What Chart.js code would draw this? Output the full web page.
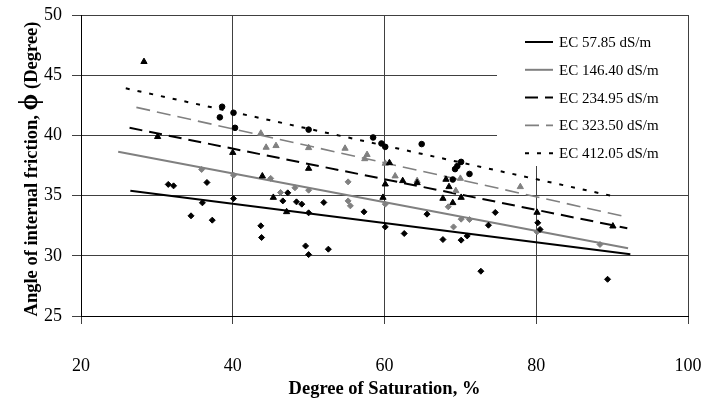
<!DOCTYPE html>
<html>
<head>
<meta charset="utf-8">
<script src="https://cdn.jsdelivr.net/npm/chart.js@4.4.0/dist/chart.umd.min.js"></script>
<style>
  html, body { margin: 0; padding: 0; background: #fff; }
</style>
</head>
<body>
<canvas id="chart" width="702" height="398"></canvas>
<script>
// series names (legend)
const seriesLabels = ['EC 57.85 dS/m', 'EC 146.40 dS/m', 'EC 234.95 dS/m', 'EC 323.50 dS/m', 'EC 412.05 dS/m'];

// measured points [degree of saturation %, friction angle deg]
const ec5785 = [[31.5, 35.93], [32.2, 35.81], [34.5, 33.32], [36.0, 34.4], [36.6, 36.09], [37.3, 32.96],
  [40.1, 34.75], [43.7, 32.49], [43.8, 31.52], [46.6, 34.56], [47.25, 35.23], [48.4, 34.48], [49.1, 34.29],
  [50.0, 33.57], [49.6, 30.82], [50.0, 30.1], [52.0, 34.43], [52.6, 30.55], [57.3, 33.65], [60.1, 32.4],
  [62.6, 31.85], [65.6, 33.46], [67.7, 31.35], [70.1, 31.3], [70.9, 31.65], [72.7, 28.72], [73.7, 32.54],
  [74.6, 33.6], [80.2, 32.74], [80.5, 32.19], [89.4, 28.05]];
const ec14640 = [[35.9, 37.17], [40.1, 36.7], [45.0, 36.43], [46.3, 35.26], [48.2, 35.65], [50.0, 35.45],
  [55.2, 36.14], [55.2, 34.56], [55.5, 34.15], [60.1, 34.29], [68.4, 34.07], [69.1, 32.4], [70.1, 33.04],
  [71.2, 33.01], [80.1, 31.99], [88.4, 30.94]];
const ec23495 = [[28.3, 46.12], [30.1, 39.89], [40.0, 38.57], [43.9, 36.62], [45.35, 34.84], [47.1, 33.65],
  [50.0, 37.25], [60.65, 37.72], [60.1, 35.95], [59.8, 34.84], [62.4, 36.23], [64.3, 36.06], [67.7, 34.76],
  [68.1, 36.34], [68.5, 35.73], [69.0, 34.4], [70.1, 34.84], [80.1, 33.6], [90.1, 32.46]];
const ec32350 = [[43.7, 40.17], [44.4, 39.0], [45.7, 39.14], [50.0, 38.97], [54.8, 38.92], [57.7, 38.4],
  [57.4, 38.05], [60.1, 37.67], [61.4, 36.62], [64.3, 36.23], [69.4, 35.4], [70.0, 36.42], [77.9, 35.73]];
const ec41205 = [[38.6, 42.38], [38.3, 41.5], [40.1, 41.88], [40.3, 40.63], [50.0, 40.48], [58.5, 39.83],
  [59.6, 39.33], [60.1, 39.05], [64.9, 39.28], [69.0, 36.34], [69.3, 37.2], [69.6, 37.45], [70.1, 37.8],
  [71.2, 36.8]];

// linear trend lines, [start, end]
const trend5785 = [[26.5, 35.40], [92.4, 30.13]];
const trend14640 = [[24.9, 38.64], [92.1, 30.63]];
const trend23495 = [[26.4, 40.63], [92.0, 32.29]];
const trend32350 = [[27.3, 42.33], [92.0, 33.21]];
const trend41205 = [[25.9, 43.91], [90.5, 34.90]];

// axis ticks
const xTicks = [20, 40, 60, 80, 100];
const yTicks = [25, 30, 35, 40, 45, 50];

const GRAY = '#808080';
const SERIF = '"Liberation Serif", "Times New Roman", serif';

const toPts = arr => arr.map(p => ({ x: p[0], y: p[1] }));

function scatterSet(pts, label, color, style, radius) {
  return {
    type: 'scatter',
    label: label,
    data: toPts(pts),
    pointStyle: style,
    pointRadius: radius,
    backgroundColor: color,
    borderColor: color,
    borderWidth: 1,
    showLine: false
  };
}

function trendSet(pts, label, color, width, dash) {
  return {
    type: 'line',
    label: label,
    data: toPts(pts),
    borderColor: color,
    borderWidth: width,
    borderDash: dash,
    pointRadius: 0,
    fill: false
  };
}

const trendSets = [
  trendSet(trend5785, seriesLabels[0], '#000', 2, []),
  trendSet(trend14640, seriesLabels[1], GRAY, 2, []),
  trendSet(trend23495, seriesLabels[2], '#000', 2, [13, 7]),
  trendSet(trend32350, seriesLabels[3], GRAY, 1.6, [14, 7]),
  trendSet(trend41205, seriesLabels[4], '#000', 2, [4, 8])
];

// legend box drawn inside the plot, upper right
const boxLegend = {
  id: 'boxLegend',
  afterDraw(chart) {
    const ctx = chart.ctx;
    const area = chart.chartArea;
    ctx.save();
    ctx.fillStyle = '#fff';
    ctx.fillRect(497, area.top + 1, area.right - 497, 150);
    trendSets.forEach((ds, i) => {
      const y = 42 + i * 27.8;
      ctx.strokeStyle = ds.borderColor;
      ctx.lineWidth = ds.borderWidth;
      ctx.setLineDash(ds.borderDash);
      ctx.beginPath();
      ctx.moveTo(525, y);
      ctx.lineTo(553, y);
      ctx.stroke();
      ctx.setLineDash([]);
      ctx.fillStyle = '#000';
      ctx.font = '15px ' + SERIF;
      ctx.textBaseline = 'middle';
      ctx.textAlign = 'left';
      ctx.fillText(ds.label, 559, y + 1);
    });
    ctx.restore();
  }
};

// y axis title with the bigger phi
const yTitle = {
  id: 'yTitle',
  afterDraw(chart) {
    const ctx = chart.ctx;
    const parts = [
      { t: 'Angle of internal friction, ', f: 'bold 18.5px ' + SERIF },
      { t: '\u03D5', f: 'bold 27px "Liberation Serif", "DejaVu Serif", serif' },
      { t: ' (Degree)', f: 'bold 18.5px ' + SERIF }
    ];
    ctx.save();
    let total = 0;
    parts.forEach(p => { ctx.font = p.f; p.w = ctx.measureText(p.t).width; total += p.w; });
    ctx.translate(37, 169);
    ctx.rotate(-Math.PI / 2);
    ctx.fillStyle = '#000';
    ctx.textBaseline = 'alphabetic';
    ctx.textAlign = 'left';
    let x = -total / 2;
    parts.forEach(p => { ctx.font = p.f; ctx.fillText(p.t, x, 0); x += p.w; });
    ctx.restore();
  }
};

new Chart(document.getElementById('chart'), {
  data: {
    datasets: [
      scatterSet(ec5785, seriesLabels[0], '#000', 'rectRot', 3),
      scatterSet(ec14640, seriesLabels[1], GRAY, 'rectRot', 3),
      scatterSet(ec23495, seriesLabels[2], '#000', 'triangle', 3.6),
      scatterSet(ec32350, seriesLabels[3], GRAY, 'triangle', 3.6),
      scatterSet(ec41205, seriesLabels[4], '#000', 'circle', 2.8)
    ].concat(trendSets)
  },
  options: {
    responsive: false,
    devicePixelRatio: 1,
    animation: false,
    layout: { padding: { top: 15, right: 14, left: 0, bottom: 0 } },
    plugins: {
      legend: { display: false },
      tooltip: { enabled: false }
    },
    scales: {
      x: {
        type: 'linear',
        min: xTicks[0],
        max: xTicks[xTicks.length - 1],
        afterFit(s) { s.height = 82; s.paddingLeft = 0; s.paddingRight = 0; },
        afterBuildTicks(s) { s.ticks = xTicks.map(v => ({ value: v })); },
        ticks: { color: '#000', font: { family: SERIF, size: 18 }, padding: 31, maxRotation: 0 },
        grid: { color: '#404040', lineWidth: 1, tickLength: 8, drawTicks: true },
        border: { display: true, color: '#000', width: 1 },
        title: {
          display: true,
          text: 'Degree of Saturation, %',
          color: '#000',
          font: { family: SERIF, size: 18.5, weight: 'bold' },
          padding: { top: 0, bottom: -2 }
        }
      },
      y: {
        type: 'linear',
        min: yTicks[0],
        max: yTicks[yTicks.length - 1],
        afterFit(s) { s.width = 81; s.paddingTop = 0; s.paddingBottom = 0; },
        afterBuildTicks(s) { s.ticks = yTicks.map(v => ({ value: v })); },
        ticks: { color: '#000', font: { family: SERIF, size: 18 }, padding: 10 },
        grid: { color: '#404040', lineWidth: 1, tickLength: 9, drawTicks: true },
        border: { display: true, color: '#000', width: 1 }
      }
    }
  },
  plugins: [boxLegend, yTitle]
});
</script>
</body>
</html>
